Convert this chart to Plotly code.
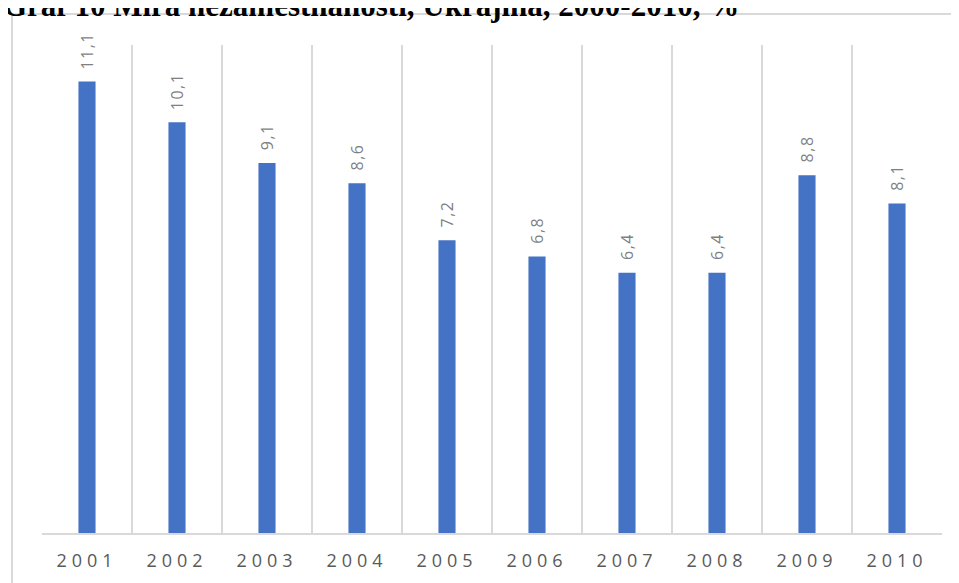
import plotly.graph_objects as go

years = ["2001", "2002", "2003", "2004", "2005", "2006", "2007", "2008", "2009", "2010"]
rates = [11.1, 10.1, 9.1, 8.6, 7.2, 6.8, 6.4, 6.4, 8.8, 8.1]
labels = [f"{v:.1f}".replace(".", ",") for v in rates]
title_text = "Graf 10 Mira nezamestnanosti, Ukrajina, 2000-2010, %"

W, H = 959, 583
OFF = 8  # page body margin
# plot area in screen pixels: x 42..942, y 45..533
SL, ST, SR, SB = 42, 45, 942, 533
pw, ph = SR - SL, SB - ST
L, T = SL - OFF, ST - OFF
R, B = W - L - pw, H - T - ph

def px2x(px):
    return (px - SL) / pw

def py2y(py):
    return (SB - py) / ph

fig = go.Figure()
fig.add_trace(go.Bar(
    x=years, y=rates, marker=dict(color="#4472C4", line=dict(width=0)),
    width=0.19, hoverinfo="skip",
))

# title first (annotation index 0)
fig.add_annotation(
    xref="paper", yref="paper", x=px2x(1), y=py2y(25), xanchor="left", yanchor="bottom",
    text=f"<b>{title_text}</b>", showarrow=False,
    font=dict(family="Liberation Serif, Times New Roman, serif", size=31, color="#000000"),
)

for i, (v, lab) in enumerate(zip(rates, labels)):
    fig.add_annotation(
        x=i, y=v, text=lab, showarrow=False, textangle=-90,
        xanchor="center", yanchor="bottom", yshift=13,
        font=dict(family="Open Sans, Calibri, sans-serif", size=16, color="#7f7f7f"),
    )

fig.add_shape(
    type="rect", xref="paper", yref="paper",
    x0=px2x(12), x1=px2x(990), y0=py2y(620), y1=py2y(14),
    line=dict(color="#d9d9d9", width=2), fillcolor="rgba(0,0,0,0)", layer="below",
)

fig.update_layout(
    width=W, height=H,
    margin=dict(l=L, r=R, t=T, b=B, pad=0),
    paper_bgcolor="white", plot_bgcolor="white",
    showlegend=False,
    xaxis=dict(
        type="category", tickson="boundaries", showgrid=True, gridcolor="#d9d9d9", gridwidth=2,
        showline=True, linecolor="#d9d9d9", linewidth=2, ticks="", mirror=False,
        tickangle=0, range=[-0.5, 9.5],
        tickfont=dict(family="Open Sans, Calibri, sans-serif", size=18, color="#595959"),
        ticklabelstandoff=10,
    ),
    yaxis=dict(range=[0, 12], showgrid=False, showticklabels=False, zeroline=False, showline=False, ticks=""),
)

spacing_css = (
    "var s=document.createElement('style');"
    "s.textContent='.xtick text{letter-spacing:5px;} "
    ".annotation:not([data-index=\"0\"]) .annotation-text{letter-spacing:1.5px;}';"
    "document.head.appendChild(s);"
)
fig.write_html("out.html", post_script=spacing_css)
